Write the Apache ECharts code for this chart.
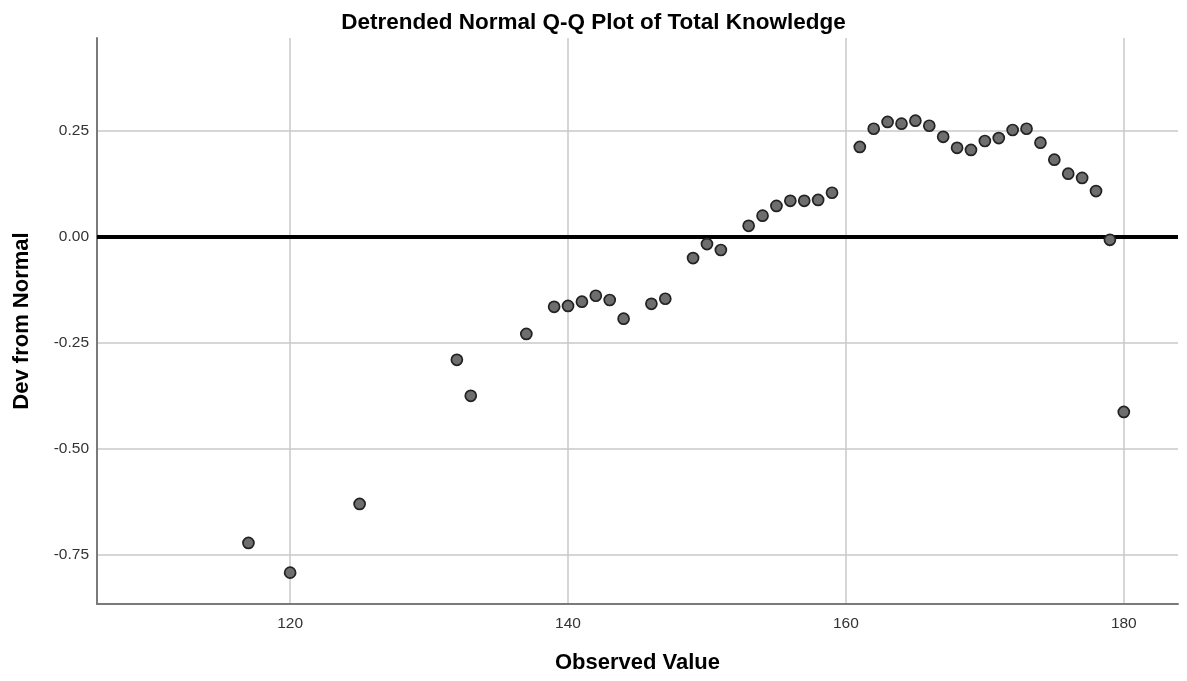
<!DOCTYPE html>
<html>
<head>
<meta charset="utf-8">
<script src="https://cdn.jsdelivr.net/npm/echarts@6/dist/echarts.min.js"></script>
<style>
html,body{margin:0;padding:0;background:#fff;}
#chart{width:1187px;height:681px;}
</style>
</head>
<body>
<div id="chart"></div>
<script>
const observed = [117,120,125,132,133,137,139,140,141,142,143,144,146,147,149,150,151,153,154,155,156,157,158,159,161,162,163,164,165,166,167,168,169,170,171,172,173,174,175,176,177,178,179,180];
const devFromNormal = [-0.722,-0.792,-0.630,-0.290,-0.375,-0.229,-0.165,-0.163,-0.153,-0.139,-0.149,-0.193,-0.158,-0.146,-0.050,-0.017,-0.031,0.026,0.050,0.073,0.085,0.085,0.087,0.104,0.212,0.255,0.271,0.267,0.274,0.262,0.236,0.210,0.205,0.226,0.233,0.252,0.255,0.222,0.182,0.149,0.139,0.108,-0.007,-0.413];
const xTicks = [120,140,160,180];
const yTicks = [-0.75,-0.50,-0.25,0.00,0.25];
const refLine = [0];

const chart = echarts.init(document.getElementById('chart'), null, {renderer:'canvas'});
const font = 'Liberation Sans, Arial, sans-serif';
chart.setOption({
  animation:false,
  backgroundColor:'#fff',
  title:{
    text:'Detrended Normal Q-Q Plot of Total Knowledge',
    left:'center', top:6,
    textStyle:{fontFamily:font,fontSize:22.5,fontWeight:'bold',color:'#000'}
  },
  grid:{left:97,right:9,top:38,bottom:77},
  xAxis:{
    type:'value', min:106.1, max:183.9,
    name:'Observed Value', nameLocation:'middle', nameGap:48,
    nameTextStyle:{fontFamily:font,fontSize:22,fontWeight:'bold',color:'#000'},
    axisLine:{show:true,onZero:false,lineStyle:{color:'#7a7a7a',width:2}},
    axisTick:{show:false,customValues:xTicks},
    axisLabel:{customValues:xTicks,fontFamily:font,fontSize:15.5,color:'#333',margin:12,formatter:v=>String(v)},
    splitLine:{show:true,lineStyle:{color:'#c8c8c8',width:1.5}}
  },
  yAxis:{
    type:'value', min:-0.866, max:0.469,
    name:'Dev from Normal', nameLocation:'middle', nameGap:64,
    nameTextStyle:{fontFamily:font,fontSize:22,fontWeight:'bold',color:'#000'},
    axisLine:{show:true,onZero:false,lineStyle:{color:'#7a7a7a',width:2}},
    axisTick:{show:false,customValues:yTicks},
    axisLabel:{customValues:yTicks,fontFamily:font,fontSize:15.5,color:'#333',margin:8,formatter:v=>v.toFixed(2)},
    splitLine:{show:true,lineStyle:{color:'#c8c8c8',width:1.5}}
  },
  series:[{
    type:'scatter',
    data:observed.map((x,i)=>[x,devFromNormal[i]]),
    symbol:'circle', symbolSize:11,
    itemStyle:{color:'#6e6e6e',borderColor:'#222',borderWidth:1.7,opacity:1},
    markLine:{
      silent:true, symbol:'none', z:1,
      label:{show:false},
      lineStyle:{color:'#000',width:4,type:'solid'},
      data:refLine.map(v=>({yAxis:v}))
    }
  }]
});
</script>
</body>
</html>
